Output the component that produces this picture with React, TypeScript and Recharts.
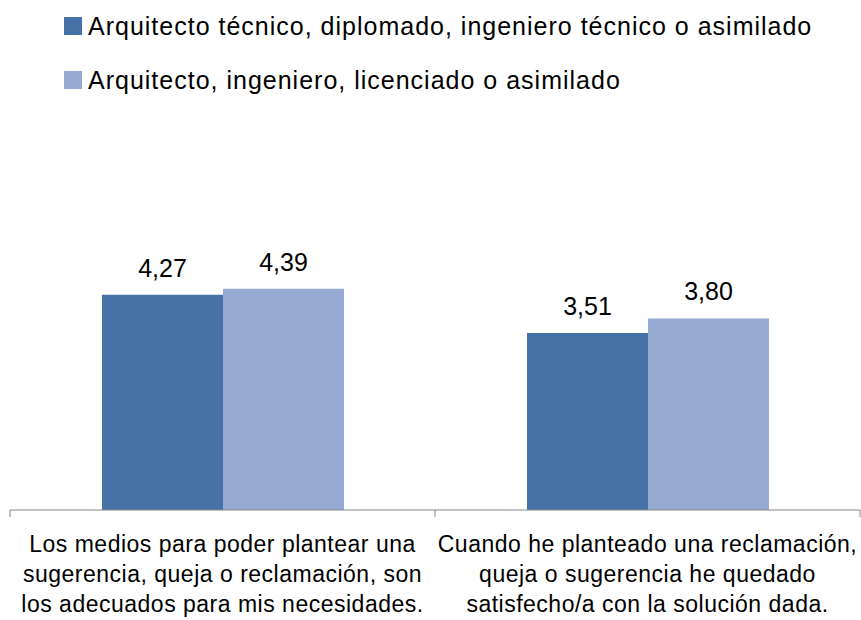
import { BarChart, Bar, XAxis, YAxis, Legend, LabelList } from 'recharts'

const DARK = '#4672a8', LIGHT = '#95a9d1', AXIS = '#868686'
const FONT = '"Liberation Sans", Arial, sans-serif'

const categories = ['medios', 'reclamacion']
const catLines: string[][] = [
  ['Los medios para poder plantear una', 'sugerencia, queja o reclamación, son', 'los adecuados para mis necesidades.'],
  ['Cuando he planteado una reclamación,', 'queja o sugerencia he quedado', 'satisfecho/a con la solución dada.'],
]
const tecnico = [4.27, 3.51]
const superior = [4.39, 3.8]
const seriesNames = [
  'Arquitecto técnico, diplomado, ingeniero técnico o asimilado',
  'Arquitecto, ingeniero, licenciado o asimilado',
]

const rows = categories.map((c, i) => ({ cat: c, tecnico: tecnico[i], superior: superior[i] }))

const W = 861, H = 620
const LEFT = 10, RIGHT = 1
const BAND = (W - LEFT - RIGHT) / categories.length

const fmt = (v: number) => v.toFixed(2).replace('.', ',')

function Tick({ x, y, index }: any) {
  const lines = catLines[index] || []
  return (
    <g>
      {index === 0 && <line x1={x - BAND / 2} x2={x - BAND / 2} y1={y} y2={y + 7} stroke={AXIS} />}
      <line x1={x + BAND / 2} x2={x + BAND / 2} y1={y} y2={y + 7} stroke={AXIS} />
      <text textAnchor="middle" fontSize={23} letterSpacing={0.5} fill="#000" fontFamily={FONT}>
        {lines.map((l, i) => (
          <tspan key={i} x={x} y={y + 42 + i * 30}>{l}</tspan>
        ))}
      </text>
    </g>
  )
}

function ValueLabel({ x, y, width, value }: any) {
  return (
    <text x={x + width / 2} y={y - 18} textAnchor="middle" fontSize={25} fill="#000" fontFamily={FONT}>
      {fmt(value)}
    </text>
  )
}

function LegendBox() {
  const cols = [DARK, LIGHT]
  return (
    <div style={{ fontFamily: FONT, fontSize: 25, letterSpacing: 1, color: '#000' }}>
      {seriesNames.map((n, i) => (
        <div key={n} style={{ position: 'absolute', left: 64, top: 17 + i * 54, height: 18, display: 'flex', alignItems: 'center', whiteSpace: 'nowrap' }}>
          <span style={{ width: 18, height: 18, background: cols[i], display: 'inline-block', marginRight: 6 }} />
          <span>{n}</span>
        </div>
      ))}
    </div>
  )
}

export default function App() {
  return (
    <div style={{ position: 'absolute', left: 0, top: 0, width: W, height: H, background: '#fff' }}>
      <BarChart width={W} height={H} data={rows} barGap={0}
        margin={{ top: 258, right: RIGHT, left: LEFT, bottom: 0 }}>
        <XAxis dataKey="cat" height={110} tickSize={0} tickMargin={0} tickLine={false}
          axisLine={{ stroke: AXIS }} tick={<Tick />} interval={0} />
        <YAxis hide domain={[0, 5]} />
        <Legend layout="horizontal" verticalAlign="middle" align="center"
          wrapperStyle={{ left: 0, top: 0, width: W, height: 110 }} content={<LegendBox />} />
        <Bar dataKey="tecnico" name={seriesNames[0]} fill={DARK} barSize={121} isAnimationActive={false}>
          <LabelList dataKey="tecnico" content={<ValueLabel />} />
        </Bar>
        <Bar dataKey="superior" name={seriesNames[1]} fill={LIGHT} barSize={121} isAnimationActive={false}>
          <LabelList dataKey="superior" content={<ValueLabel />} />
        </Bar>
      </BarChart>
    </div>
  )
}
